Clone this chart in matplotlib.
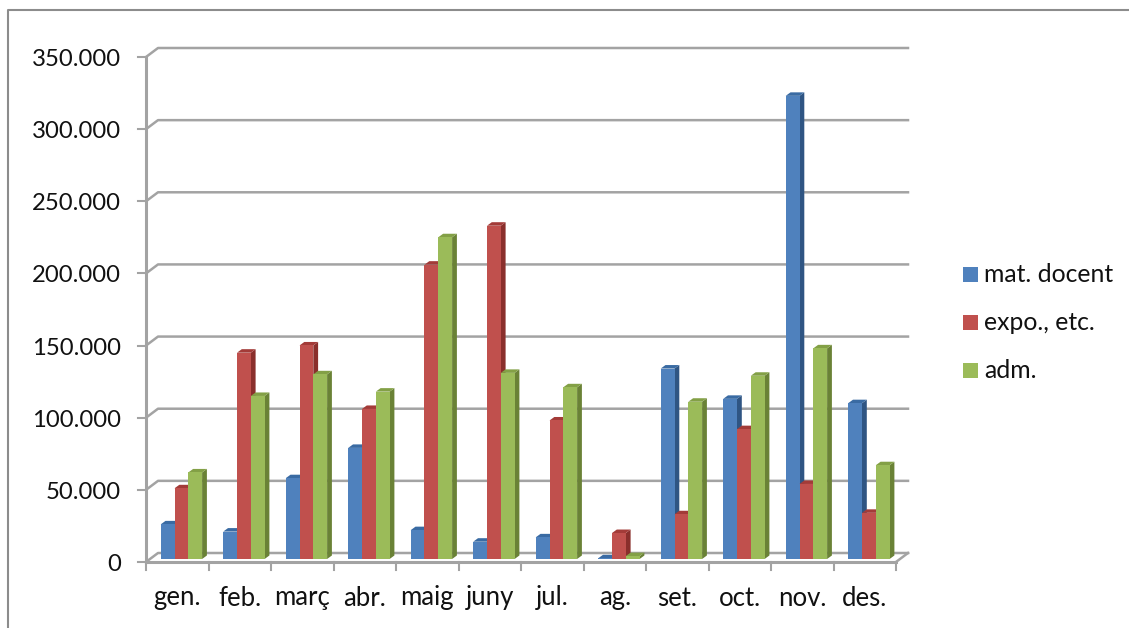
import matplotlib
matplotlib.use("Agg")
import matplotlib.pyplot as plt
from matplotlib.patches import Polygon, Rectangle
from matplotlib.lines import Line2D

plt.rcParams['font.family'] = ['Lato', 'DejaVu Sans']

months = ["gen.", "feb.", "març", "abr.", "maig", "juny", "jul.", "ag.", "set.", "oct.", "nov.", "des."]
mat_docent = [24000, 19000, 56000, 77000, 20000, 12000, 15000, 500, 132000, 111000, 321000, 108000]
expo_etc = [49000, 143000, 148000, 104000, 204000, 231000, 96000, 18000, 31000, 90000, 52000, 32000]
adm = [60000, 113000, 128000, 116000, 223000, 129000, 119000, 2000, 109000, 127000, 146000, 65000]
series_names = ["mat. docent", "expo., etc.", "adm."]
yticks = [0, 50000, 100000, 150000, 200000, 250000, 300000, 350000]
ytick_labels = ["0", "50.000", "100.000", "150.000", "200.000", "250.000", "300.000", "350.000"]

W, H = 1129, 628
face = ["#4f81bd", "#c0504d", "#9bbb59"]
side = ["#2f5583", "#8a2f2c", "#6a8236"]
top = ["#3a6ba3", "#a33b38", "#83a046"]
grid = "#a3a3a3"

fig = plt.figure(figsize=(W / 100, H / 100), dpi=100)
fig.patches.append(Line2D([8 / W, 8 / W, 1], [0, 1 - 10 / H, 1 - 10 / H], color="#8c8c8c", lw=1.5, transform=fig.transFigure))
ax = fig.add_axes([146 / W, 1 - 562 / H, 750 / W, 505 / H])
ax.set_xlim(0, 12)
ax.set_ylim(0, 350000)
ax.axis("off")

# pixel sizes turned into data units
px_x = 12 / 750
px_y = 350000 / 505
back_x, back_y = 12 * px_x, 9 * px_y

# walls, floor and gridlines
for v in yticks:
    ax.plot([0, back_x, 12 + back_x], [v, v + back_y, v + back_y], color=grid, lw=1.8, clip_on=False, zorder=1)
ax.plot([12, 12 + back_x], [0, back_y], color=grid, lw=1.8, clip_on=False, zorder=1)
ax.plot([0, 12], [0, 0], color=grid, lw=2.2, clip_on=False, zorder=2)
ax.plot([0, 0], [0, 350000], color=grid, lw=2.2, clip_on=False, zorder=2)

# 3d bars
bar_w = 13.8 * px_x
dep_x, dep_y = 4.8 * px_x, 3.5 * px_y
base = 3 * px_y
start = 14.7 * px_x
z = 3
for m in range(12):
    vals = [mat_docent[m], expo_etc[m], adm[m]]
    for s in range(3):
        x0 = m + start + s * bar_w
        t = base + vals[s]
        ax.add_patch(Polygon([(x0 + bar_w, base), (x0 + bar_w + dep_x, base + dep_y),
                              (x0 + bar_w + dep_x, t + dep_y), (x0 + bar_w, t)], color=side[s], lw=0, zorder=z))
        ax.add_patch(Polygon([(x0, t), (x0 + bar_w, t), (x0 + bar_w + dep_x, t + dep_y),
                              (x0 + dep_x, t + dep_y)], color=top[s], lw=0, zorder=z))
        ax.bar(x0, vals[s], bottom=base, width=bar_w, align="edge", color=face[s], lw=0, zorder=z + 1)
        z += 2

# ticks and labels
for v, lab in zip(yticks, ytick_labels):
    ax.plot([-8 * px_x, 0], [v, v], color=grid, lw=1.5, clip_on=False, zorder=2)
    ax.text(-25 * px_x, v - 2.5 * px_y, lab, ha="right", va="center", fontsize=17.2, color="#111111")
for i in range(13):
    ax.plot([i, i], [0, -8 * px_y], color=grid, lw=1.5, clip_on=False, zorder=2)
for i, lab in enumerate(months):
    ax.text(i + 0.5, -36 * px_y, lab, ha="center", va="center", fontsize=18.5, color="#111111")

# legend
for i, name in enumerate(series_names):
    yc = 274.5 + i * 48
    fig.patches.append(Rectangle((963 / W, 1 - (yc + 7.5) / H), 15 / W, 15 / H, color=face[i], lw=0, transform=fig.transFigure))
    fig.text(984 / W, 1 - yc / H, name, ha="left", va="center", fontsize=17.8, color="#111111")

fig.savefig("out.png", dpi=100)
